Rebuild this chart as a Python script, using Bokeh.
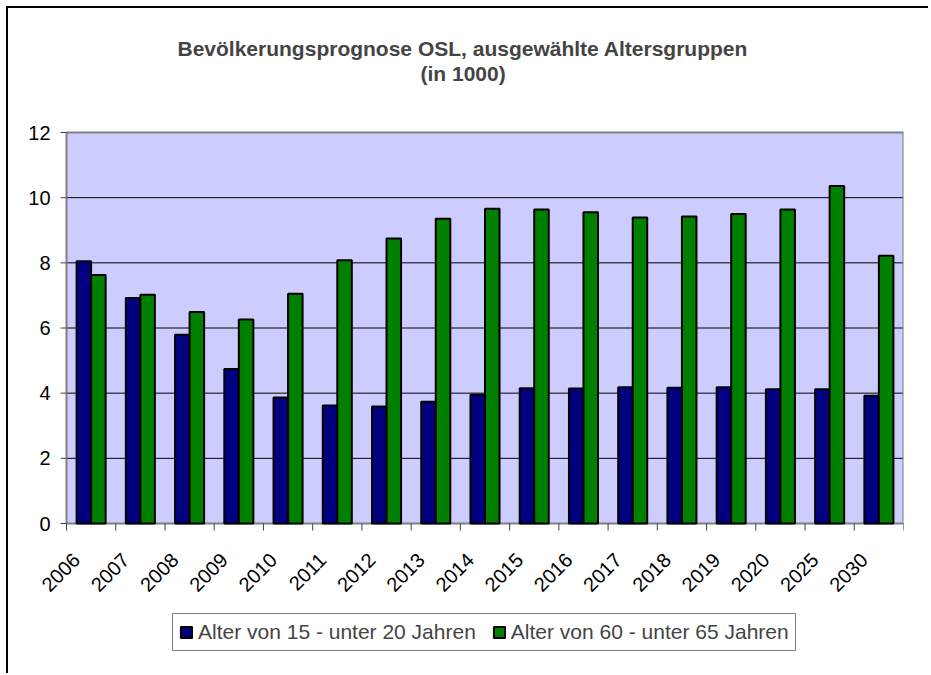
import math
from bokeh.plotting import figure
from bokeh.models import Range1d, Title, Legend, LegendItem
from bokeh.core.properties import value
from bokeh.embed import file_html
from bokeh.resources import INLINE

years = ["2006", "2007", "2008", "2009", "2010", "2011", "2012", "2013", "2014",
         "2015", "2016", "2017", "2018", "2019", "2020", "2025", "2030"]
age_15_20 = [8.05, 6.92, 5.79, 4.74, 3.87, 3.62, 3.59, 3.74, 3.95,
             4.15, 4.14, 4.18, 4.17, 4.18, 4.12, 4.12, 3.92]
age_60_65 = [7.63, 7.02, 6.49, 6.26, 7.05, 8.08, 8.75, 9.35, 9.66,
             9.64, 9.55, 9.39, 9.42, 9.50, 9.64, 10.36, 8.22]
y_ticks = [0, 2, 4, 6, 8, 10, 12]
y_tick_labels = ["0", "2", "4", "6", "8", "10", "12"]
series_names = ["Alter von 15 - unter 20 Jahren", "Alter von 60 - unter 65 Jahren"]
title_line1 = "Bevölkerungsprognose OSL, ausgewählte Altersgruppen"
title_line2 = "(in 1000)"

FONT = "Liberation Sans"
n = len(years)
y_max = y_ticks[-1]
bw = 0.295
label_shift = 0.297

# geometry (pixels)
plot_w_px = 837        # width of the value area
left_px = 58           # room left of the value area (y labels)
plot_px = 391          # height of the value area (0..12)
top_px = 15            # room above the value area (top y label)
below_px = 150         # room below the value area (x labels, legend)
frame_h = plot_px + top_px + below_px
frame_w = plot_w_px + left_px
px_x = plot_w_px / n
px_y = plot_px / y_max
x_start = -left_px / px_x
y_bottom = -below_px / px_y
y_top = y_max + top_px / px_y
xtick_len = 7 / px_y
ytick_len = 6 / px_x
label_drop = 33 / px_y
ylabel_gap = 16 / px_x

p = figure(frame_width=frame_w, frame_height=frame_h,
           min_border_left=0, min_border_right=25,
           min_border_top=124 - top_px, min_border_bottom=0,
           x_range=Range1d(x_start, n), y_range=Range1d(y_bottom, y_top),
           x_axis_type=None, y_axis_type=None,
           output_backend="svg", toolbar_location=None, title=None)

p.styles = {"margin-left": "6px", "margin-top": "6px",
            "border-left": "2px solid black", "border-top": "2px solid black"}

p.background_fill_color = "white"
p.border_fill_color = "white"
p.outline_line_color = None
p.grid.visible = False

# plot area background
p.quad(left=0, right=n, bottom=0, top=y_max, fill_color="#CCCCFF", line_color=None)
# horizontal grid lines
p.segment(x0=[0] * len(y_ticks), x1=[n] * len(y_ticks), y0=y_ticks, y1=y_ticks,
          line_color="black", line_width=1)
# plot area border
p.quad(left=0, right=n, bottom=0, top=y_max, fill_color=None,
       line_color="#808080", line_width=2)
# x ticks at category boundaries
p.segment(x0=list(range(n + 1)), x1=list(range(n + 1)),
          y0=[0] * (n + 1), y1=[-xtick_len] * (n + 1),
          line_color="#404040", line_width=1)
# y ticks
p.segment(x0=[0] * len(y_ticks), x1=[-ytick_len] * len(y_ticks),
          y0=y_ticks, y1=y_ticks, line_color="#404040", line_width=1)

xs_blue = [i + 0.5 - bw / 2 for i in range(n)]
xs_green = [i + 0.5 + bw / 2 for i in range(n)]
r1 = p.vbar(x=xs_blue, top=age_15_20, bottom=0, width=bw,
            fill_color="#000080", line_color="black", line_width=2)
r2 = p.vbar(x=xs_green, top=age_60_65, bottom=0, width=bw,
            fill_color="#008000", line_color="black", line_width=2)

# x labels (rotated 45 degrees)
p.text(x=[i + 0.5 - label_shift for i in range(n)], y=[-label_drop] * n, text=years,
       angle=math.pi / 4, text_align="right", text_baseline="middle",
       text_font=value(FONT), text_font_size="20px", text_color="black")

# y labels
p.text(x=[-ylabel_gap] * len(y_ticks), y=y_ticks, text=y_tick_labels,
       text_align="right", text_baseline="middle",
       text_font=value(FONT), text_font_size="20px", text_color="black")

# titles (spacer closest to the frame, then line 2, then line 1)
spacer = Title(text=" ", align="left", text_font=FONT, text_font_size="21px",
               standoff=23 - top_px)
t2 = Title(text=title_line2, align="left", offset=354 + left_px, text_font=FONT,
           text_font_size="21px", text_font_style="bold", standoff=0)
t1 = Title(text=title_line1, align="left", offset=111 + left_px, text_font=FONT,
           text_font_size="21px", text_font_style="bold", standoff=0)
p.add_layout(spacer, "above")
p.add_layout(t2, "above")
p.add_layout(t1, "above")

# legend, inside the (extended) frame below the labels
legend = Legend(items=[LegendItem(label=series_names[0], renderers=[r1]),
                       LegendItem(label=series_names[1], renderers=[r2])],
                orientation="horizontal", location=(106 + left_px, 22),
                label_text_font=FONT, label_text_font_size="21px",
                glyph_width=14, glyph_height=14, label_standoff=5,
                spacing=16, padding=6, margin=0,
                border_line_color="black", border_line_width=1,
                background_fill_color="white", background_fill_alpha=1)
p.add_layout(legend, "center")

open("out.html", "w").write(file_html(p, INLINE))
